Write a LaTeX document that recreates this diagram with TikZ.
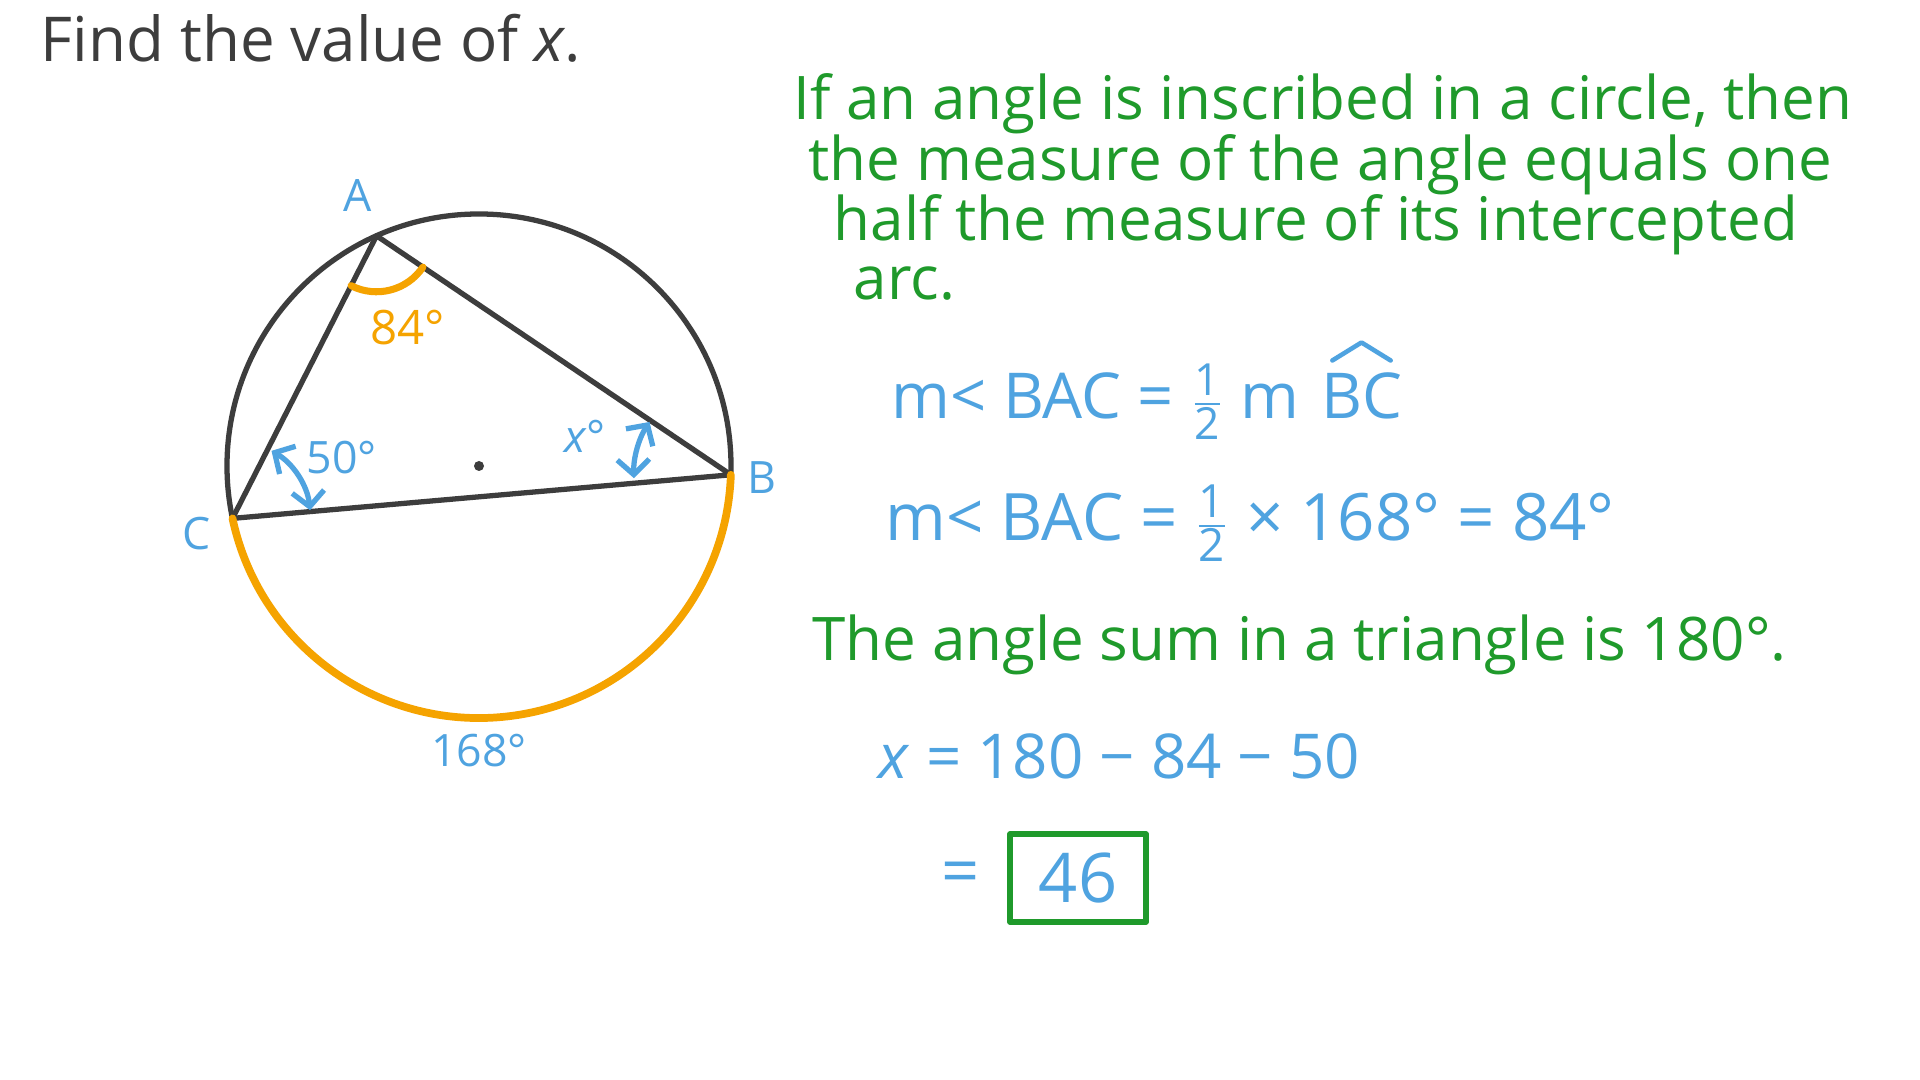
\documentclass[tikz,border=0pt]{standalone}
\usepackage{fontspec}
\setmainfont{Open Sans}
\usetikzlibrary{calc,arrows.meta,positioning}
\definecolor{ink}{HTML}{3D3D3D}
\definecolor{penblue}{HTML}{4FA3E0}
\definecolor{pengreen}{HTML}{1F9A2B}
\definecolor{penorange}{HTML}{F5A300}
\newcommand{\half}{\ensuremath{\frac{\mbox{\scalebox{0.7}{1}}}{\mbox{\scalebox{0.7}{2}}}}}
\newcommand{\anglemark}[4]{%
  \draw[penorange, line width=2pt]
    ($(#1)+(#2:#4)$) arc[start angle=#2, end angle=#3, radius=#4]}
\newcommand{\anglearrow}[4]{%
  \draw[<->, penblue, line width=1.5pt]
    ($(#1)+(#2:#4)$) arc[start angle=#2, end angle=#3, radius=#4]}

\begin{document}
\begin{tikzpicture}[
    >={Straight Barb[length=1.5mm, width=3.2mm]}, line cap=round, line join=round,
    pt/.style={font=\fontsize{12.7}{15}\selectfont, text=penblue, inner sep=0},
    note/.style={font=\fontsize{17.1}{20}\selectfont, text=pengreen,
      anchor=base west, inner sep=0},
    eqn/.style={font=\fontsize{18}{21}\selectfont, text=penblue,
      anchor=base west, inner sep=0},
    chord/.style={ink, line width=1.5pt}]
  \useasboundingbox[fill=white] (0,0) rectangle (19.2,10.8);

  \node[anchor=base west, inner sep=0, text=ink, font=\fontsize{17.6}{20}\selectfont]
    (task) at (0.40,10.18) {Find the value of \textit{x}.};

  \coordinate (O) at (4.79,6.14);
  \coordinate (A) at ($(O)+(114:2.52)$);
  \coordinate (B) at ($(O)+(-2:2.52)$);
  \coordinate (C) at ($(O)+(192:2.52)$);

  \draw[chord] (O) circle[radius=2.52];
  \fill[ink] (O) circle[radius=0.05];
  \draw[chord] (A) -- (B) -- (C) -- cycle;
  \draw[penorange, line width=2.2pt] (C) arc[start angle=192, end angle=358, radius=2.52];

  \anglemark{A}{243}{326}{0.56};
  \anglearrow{C}{6}{60}{0.78};
  \anglearrow{B}{147}{182}{0.97};

  \node[pt] (label-a) at (3.58,8.84) {A};
  \node[pt] (label-b) at (7.62,6.02) {B};
  \node[pt] (label-c) at (1.97,5.46) {C};
  \node[pt, text=penorange, font=\fontsize{13.5}{16}\selectfont] (angle-a) at (4.08,7.52) {84°};
  \node[pt] (angle-c) at (3.42,6.22) {50°};
  \node[pt] (angle-b) at (5.85,6.44) {\textit{x}°};
  \node[pt] (arc-cb) at (4.79,3.29) {168°};

  \node[note] (rule1) at (7.93,9.60) {If an angle is inscribed in a circle, then};
  \node[note] (rule2) at (8.08,8.99) {the measure of the angle equals one};
  \node[note] (rule3) at (8.33,8.39) {half the measure of its intercepted};
  \node[note] (rule4) at (8.53,7.80) {arc.};

  \node[eqn] (eq-half) at (8.91,6.61) {m< BAC = \half{} m};
  \node[eqn] (arc-bc) at ([xshift=0.2cm]eq-half.base east) {BC};
  \draw[penblue, line width=1.3pt]
    ($(arc-bc.north west)+(0.12,0.12)$) -- ($(arc-bc.north)+(0,0.3)$)
    -- ($(arc-bc.north east)+(-0.12,0.12)$);
  \node[eqn, font=\fontsize{18.6}{22}\selectfont] (eq-value) at (8.85,5.39)
    {m< BAC = \half{} × 168° = 84°};

  \node[note] (angle-sum) at (8.12,4.19) {The angle sum in a triangle is 180°.};

  \node[eqn, font=\fontsize{17.6}{21}\selectfont] (eq-x) at (8.78,3.01)
    {\textit{x} = 180 − 84 − 50};
  \node[draw=pengreen, line width=1.6pt, text=penblue, inner sep=0,
    minimum width=1.36cm, minimum height=0.88cm,
    font=\fontsize{19.5}{22}\selectfont] (answer) at (10.78,2.02) {46};
  \node[eqn, anchor=east, font=\fontsize{19}{22}\selectfont]
    (equals) [left=0.27cm of answer] {=};
\end{tikzpicture}
\end{document}
